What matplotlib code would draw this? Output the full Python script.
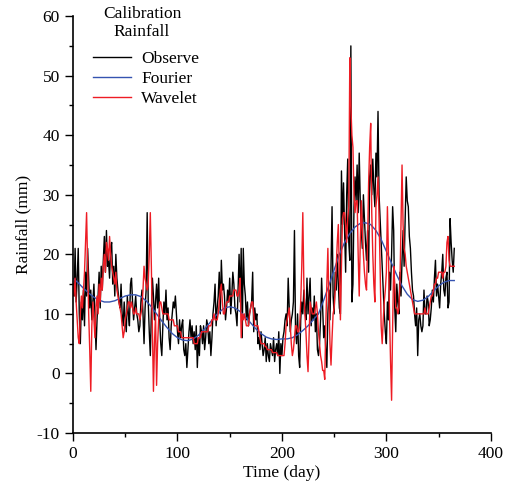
import numpy as np
import matplotlib
matplotlib.use("Agg")
import matplotlib.pyplot as plt
from matplotlib.ticker import MultipleLocator

plt.rcParams['font.family'] = ['Liberation Serif', 'DejaVu Serif']
plt.rcParams['axes.unicode_minus'] = False

observe = [
    15, 13, 21, 12, 16, 21, 10, 5, 12, 9,
    14, 8, 17, 13, 21, 16, 11, 14, 9, 12,
    15, 10, 4, 9, 13, 17, 11, 18, 14, 19,
    23, 17, 24, 18, 19, 16, 21, 22, 15, 18,
    13, 20, 16, 14, 12, 11, 15, 10, 8, 12,
    9, 7, 13, 10, 8, 15, 16, 12, 9, 11,
    13, 10, 9, 7, 8, 12, 14, 10, 5, 11,
    14, 27, 12, 7, 3, 10, 16, 13, 9, 12,
    15, 11, 16, 9, 5, 3, 8, 12, 10, 14,
    9, 11, 6, 4, 8, 10, 12, 11, 13, 10,
    7, 5, 9, 6, 8, 9, 4, 3, 5, 1,
    4, 7, 9, 6, 8, 5, 7, 4, 8, 1,
    6, 3, 8, 7, 5, 8, 4, 6, 9, 8,
    5, 7, 3, 6, 10, 12, 15, 8, 11, 13,
    17, 10, 19, 14, 15, 13, 9, 11, 14, 12,
    16, 10, 13, 17, 15, 11, 10, 8, 14, 20,
    12, 21, 6, 21, 15, 13, 9, 12, 8, 10,
    11, 12, 17, 7, 11, 9, 10, 5, 6, 4,
    7, 5, 3, 4, 6, 2, 5, 3, 2, 5,
    4, 3, 6, 2, 4, 5, 3, 7, 0, 5,
    3, 6, 7, 9, 10, 8, 16, 11, 7, 9,
    10, 12, 24, 8, 5, 10, 3, 1, 9, 12,
    10, 14, 11, 9, 16, 10, 13, 16, 8, 11,
    9, 13, 7, 10, 4, 3, 5, 9, 16, 11,
    6, 8, 4, 1, 10, 14, 9, 18, 28, 13,
    10, 17, 14, 20, 15, 11, 10, 34, 25, 32,
    24, 17, 30, 36, 22, 19, 55, 12, 15, 28,
    33, 29, 35, 27, 37, 29, 24, 21, 30, 26,
    22, 19, 24, 17, 33, 35, 30, 36, 31, 28,
    37, 33, 44, 30, 26, 22, 18, 14, 10, 7,
    5, 12, 9, 17, 14, 20, 28, 24, 11, 7,
    15, 12, 10, 17, 13, 19, 24, 18, 26, 33,
    29, 28, 23, 21, 17, 14, 13, 10, 8, 11,
    3, 9, 10, 8, 7, 8, 14, 10, 10, 13,
    12, 8, 9, 11, 14, 12, 16, 19, 13, 15,
    13, 11, 15, 17, 20, 14, 13, 16, 17, 11,
    12, 26, 22, 19, 17, 21,
]

# wavelet model, day 0..365
wavelet = [
    15, 13, 16, 12, 9, 6, 5, 10, 13, 11,
    14, 17, 22, 27, 18, 10, 4, -3, 8, 12,
    9, 6, 11, 13, 10, 15, 12, 16, 14, 18,
    20, 17, 22, 21, 19, 23, 20, 18, 17, 16,
    15, 17, 14, 13, 12, 11, 10, 8, 6, 7,
    9, 10, 11, 12, 12, 11, 12, 11, 10, 10,
    11, 10, 10, 10, 9, 10, 11, 14, 18, 16,
    15, 14, 15, 20, 27, 18, 8, -3, 5, 10,
    -2, 5, 9, 12, 12, 11, 10, 10, 10, 10,
    10, 10, 9, 9, 9, 9, 9, 8, 8, 8,
    8, 7, 7, 7, 6, 6, 6, 6, 6, 6,
    6, 6, 6, 6, 6, 6, 5, 5, 5, 5,
    6, 6, 6, 7, 7, 7, 7, 7, 7, 7,
    8, 8, 8, 9, 9, 10, 9, 9, 9, 10,
    12, 14, 15, 12, 10, 10, 11, 12, 12, 12,
    13, 13, 13, 13, 14, 14, 14, 13, 13, 14,
    16, 6, 10, 9, 10, 9, 8, 8, 8, 10,
    11, 12, 12, 10, 8, 8, 8, 8, 7, 6,
    5, 5, 5, 5, 4.5, 4.5, 4, 4, 4, 4,
    4, 3.5, 3.5, 3.5, 3.5, 3.5, 3, 3, 3, 3,
    3, 3, 3, 5, 8, 9, 10, 11, 8, 5,
    3, 4, 6, 8, 8, 7, 7, 8, 12, 18,
    27, 15, 10, 7, 3, 0.3, 6, 12, 11, 10,
    10, 10, 11, 12, 10, 7, 5, 3, 2, 0.5,
    0.5, -1, 8, 15, 21, 12, 5, 1.4, 6, 10,
    11, 14, 18, 22, 25, 17, 9, 18, 26, 27,
    27, 25, 22, 26, 28, 53, 45, 40, 38, 30,
    27, 29, 29, 20, 13, 22, 29, 24, 20, 17,
    15, 14, 22, 32, 38, 42, 27, 20, 15, 12,
    28, 30, 33, 26, 18, 8, 5, 9, 12, 14,
    17, 28, 20, 10, 2, -4.5, 8, 18, 15, 11,
    11, 10, 11, 15, 25, 35, 25, 21, 20, 18,
    17, 16, 15, 14, 13, 12, 11, 10, 10, 10,
    10, 10, 10, 10, 10, 10, 10, 11, 10, 10,
    10, 11, 12, 13, 13, 14, 15, 15, 16, 16,
    17, 17, 17, 17, 16, 17, 17, 18, 22, 23,
    19, 18, 18, 18, 18, 18,
]

# fourier fit, sampled every 5 days
fourier_days = list(range(0, 366, 5))
fourier = [
    16.0, 15.2, 14.3, 13.5, 12.8, 12.3, 12.0, 12.0, 12.2, 12.6,
    13.0, 13.2, 13.2, 12.9, 12.2, 11.2, 10.0, 8.8, 7.7, 6.7,
    6.0, 5.6, 5.5, 5.8, 6.4, 7.3, 8.3, 9.4, 10.3, 11.0,
    11.2, 11.0, 10.4, 9.5, 8.5, 7.5, 6.7, 6.1, 5.8, 5.7,
    5.8, 5.8, 6.0, 6.5, 7.2, 8.0, 9.0, 10.0, 12.3, 14.8,
    17.4, 20.0, 22.0, 23.5, 24.6, 25.2, 25.3, 25.0, 24.0, 22.5,
    20.5, 18.5, 16.5, 14.7, 13.3, 12.4, 12.1, 12.3, 12.9, 13.8,
    14.7, 15.3, 15.6, 15.6,
]

days = np.arange(len(observe))

fig = plt.figure(figsize=(5.06, 4.87), dpi=100)
ax = fig.add_axes([0.1443, 0.1109, 0.8257, 0.856])

ax.plot(days, observe, color='black', lw=1.0, label='Observe')
ax.plot(fourier_days, fourier, color='#3553b0', lw=1.0, label='Fourier')
ax.plot(np.arange(len(wavelet)), wavelet, color='#ee1c24', lw=1.0, label='Wavelet')

ax.set_xlim(0, 400)
ax.set_ylim(-10, 60)
ax.xaxis.set_major_locator(MultipleLocator(100))
ax.xaxis.set_minor_locator(MultipleLocator(50))
ax.yaxis.set_major_locator(MultipleLocator(10))
ax.yaxis.set_minor_locator(MultipleLocator(5))
ax.tick_params(which='major', direction='out', length=6, width=1, labelsize=12.5)
ax.tick_params(which='minor', direction='out', length=3, width=1)
for s in ['top', 'right']:
    ax.spines[s].set_visible(False)
for s in ['left', 'bottom']:
    ax.spines[s].set_linewidth(1.2)

ax.set_xlabel('Time (day)', fontsize=12.5, labelpad=2)
ax.set_ylabel('Rainfall (mm)', fontsize=12.5, labelpad=4)

leg = ax.legend(loc='upper left', bbox_to_anchor=(0.01, 0.955),
                frameon=False, fontsize=12.5, handlelength=2.2,
                handletextpad=0.6, labelspacing=0.22)
ax.text(0.165, 1.025, 'Calibration\nRainfall', transform=ax.transAxes,
        ha='center', va='top', fontsize=12.5, linespacing=1.2)

fig.savefig('out.png', dpi=100)
